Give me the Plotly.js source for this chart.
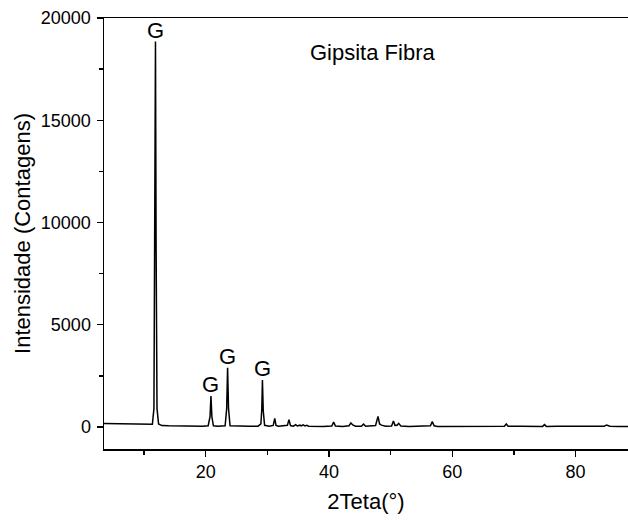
<!DOCTYPE html>
<html>
<head>
<meta charset="utf-8">
<script src="https://cdn.plot.ly/plotly-3.0.1.min.js"></script>
<style>html,body{margin:0;padding:0;background:#fff;}#chart{width:628px;height:520px;}</style>
</head>
<body>
<div id="chart"></div>
<script>
// 2Theta (degrees) and intensity (counts)
const twoTheta = [3.5,5,6.5,8,9.5,10.5,11.35,11.6,11.75,11.85,11.95,12.1,12.35,12.9,14,16,18,19.5,
  20.4,20.7,20.85,21.0,21.25,22,23.15,23.4,23.55,23.7,23.95,25,27,28.5,28.95,29.1,29.2,29.33,29.55,
  30.3,30.95,31.2,31.4,31.8,32.3,32.7,33.25,33.5,33.75,34.2,34.6,34.85,35.3,35.5,35.8,36.1,36.4,36.7,
  37.5,39,40.45,40.75,41.05,42.2,43.25,43.55,43.85,44.3,45.25,45.6,45.95,46.8,47.55,47.95,48.2,48.5,49.2,
  50.15,50.45,50.7,51.05,51.3,51.65,53,55,55.5,56.0,56.45,56.75,57.05,57.6,60.3,60.6,61,63.7,64.0,64.4,
  66,68.45,68.75,69.05,71,72.5,74.65,74.95,75.25,77,80,82,84.65,85.05,85.55,87,88.5];
const intensity = [170,160,150,140,125,110,130,900,9000,18850,9000,900,150,70,55,45,40,40,
  60,500,1520,500,60,40,60,900,2900,900,60,40,35,40,150,900,2300,800,80,
  40,80,420,80,40,60,40,80,360,70,40,110,50,90,50,100,50,80,40,
  30,30,50,240,50,30,60,200,100,40,40,140,40,40,70,520,150,90,40,
  50,290,80,90,180,50,30,40,50,40,60,260,60,30,30,60,30,30,55,30,
  30,40,150,40,40,30,30,115,30,40,30,30,40,100,40,30,30];

// Peaks marked as gypsum (G)
const labelAngles = [11.85, 20.85, 23.55, 29.2];
const labelIntensities = [18850, 1520, 2900, 2300];
const labelText = "G";
const sampleName = "Gipsita Fibra";
const sampleNamePos = [47.0, 18300];

const xTitle = "2Teta(°)";
const yTitle = "Intensidade (Contagens)";

const font = "Liberation Sans, Arial, sans-serif";

const annotations = labelAngles.map((a, i) => ({
  x: a, y: labelIntensities[i], xref: 'x', yref: 'y',
  text: labelText, showarrow: false, yanchor: 'bottom', yshift: -3,
  font: {family: font, size: 22, color: '#000'}
}));
annotations.push({
  x: sampleNamePos[0], y: sampleNamePos[1], xref: 'x', yref: 'y',
  text: sampleName, showarrow: false, xanchor: 'center', yanchor: 'middle',
  font: {family: font, size: 22, color: '#000'}
});

const trace = {
  x: twoTheta, y: intensity, type: 'scatter', mode: 'lines',
  line: {color: '#000', width: 1.5}, hoverinfo: 'skip'
};

const layout = {
  width: 628, height: 520,
  margin: {l: 104, r: 0, t: 18, b: 71, pad: 0},
  paper_bgcolor: '#fff', plot_bgcolor: '#fff',
  showlegend: false,
  font: {family: font, color: '#000'},
  xaxis: {
    range: [3.5, 88.5], showgrid: false, zeroline: false,
    showline: true, linecolor: '#000', linewidth: 1.5, mirror: true,
    ticks: 'outside', ticklen: 6, tickwidth: 1.3, tickcolor: '#000',
    tick0: 0, dtick: 20,
    minor: {ticks: 'outside', ticklen: 4, tickwidth: 1.3, tickcolor: '#000', dtick: 10, showgrid: false},
    tickfont: {family: font, size: 18, color: '#000'},
    title: {text: xTitle, font: {family: font, size: 22, color: '#000'}, standoff: 12},
    automargin: false
  },
  yaxis: {
    range: [-1076, 20000], showgrid: false, zeroline: false,
    showline: true, linecolor: '#000', linewidth: 1.5, mirror: false,
    ticks: 'outside', ticklen: 6, tickwidth: 1.3, tickcolor: '#000',
    tick0: 0, dtick: 5000, tickformat: 'd', ticklabelstandoff: 2,
    minor: {ticks: 'outside', ticklen: 4, tickwidth: 1.3, tickcolor: '#000', dtick: 2500, showgrid: false},
    tickfont: {family: font, size: 18, color: '#000'},
    title: {text: yTitle, font: {family: font, size: 22, color: '#000'}, standoff: 4},
    automargin: false
  },
  annotations: annotations
};

Plotly.newPlot('chart', [trace], layout, {displayModeBar: false, staticPlot: true});
</script>
</body>
</html>
